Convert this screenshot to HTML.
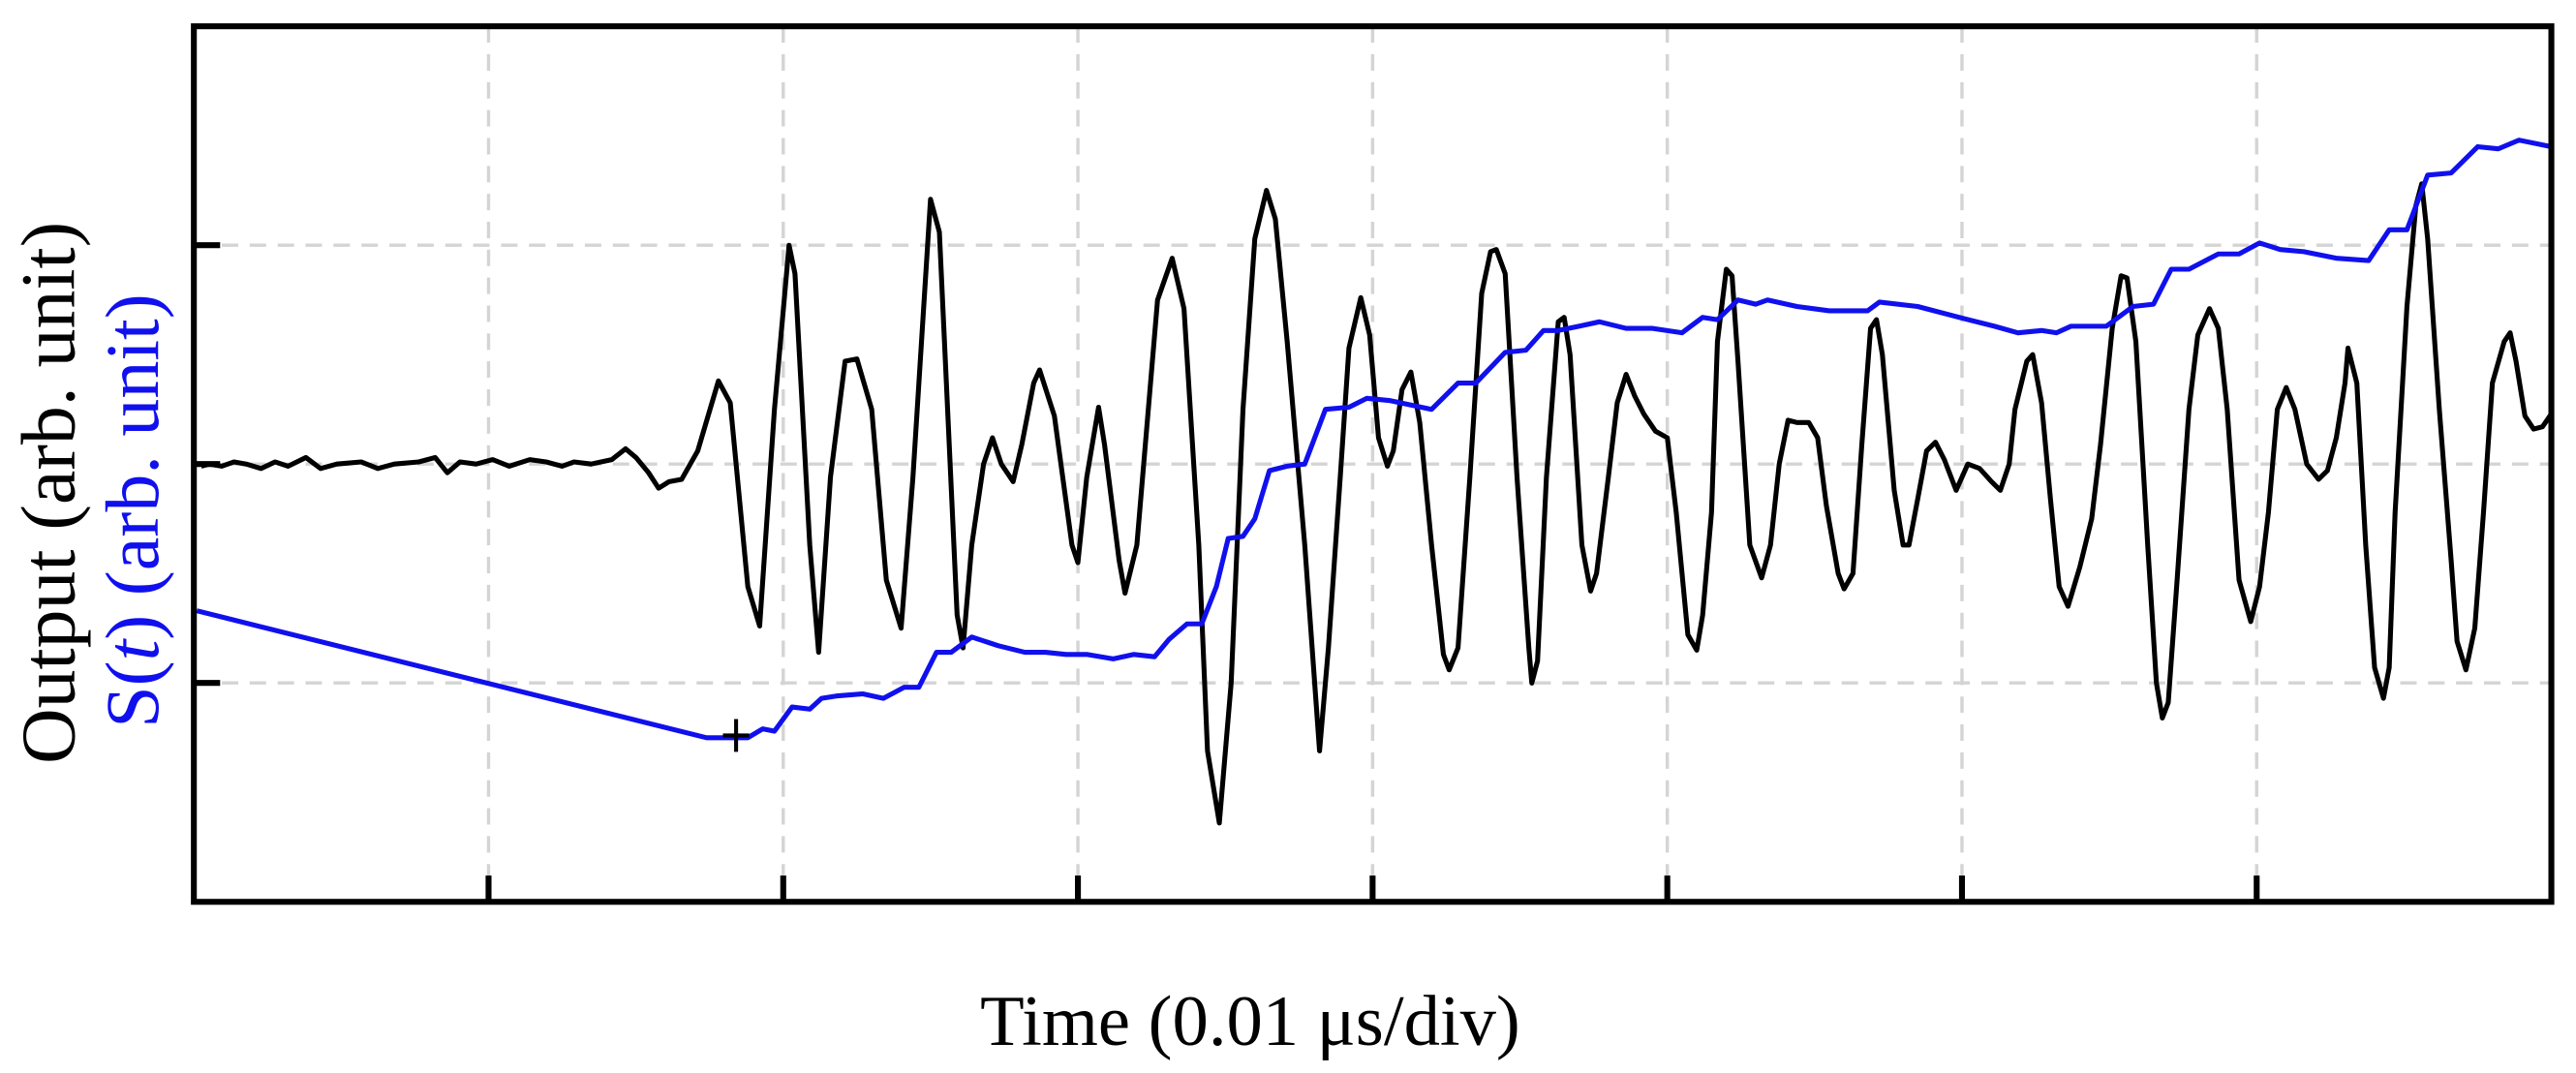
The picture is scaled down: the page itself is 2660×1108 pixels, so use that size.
<!DOCTYPE html>
<html><head><meta charset="utf-8"><style>
html,body{margin:0;padding:0;background:#fff;}
svg{display:block;}
text{font-family:"Liberation Serif",serif;}
</style></head>
<body>
<svg id="chart" width="2660" height="1108" viewBox="0 0 1568 653.2" preserveAspectRatio="none" xmlns="http://www.w3.org/2000/svg">
<g id="grid"></g>
<g id="series"></g>
<rect x="118" y="16" width="1435" height="533" fill="none" stroke="#000" stroke-width="3.6"/>
<g id="ticks"></g>
<text transform="translate(45,300) rotate(-90)" text-anchor="middle" font-size="47" fill="#000">Output (arb. unit)</text>
<text transform="translate(96,311) rotate(-90)" text-anchor="middle" font-size="46" fill="#1010ee">S(<tspan font-style="italic">t</tspan>) (arb. unit)</text>
<text x="761" y="636" text-anchor="middle" font-size="44" fill="#000">Time (0.01 μs/div)</text>
</svg>
<script>
const xDivs = [0,1,2,3,4,5,6,7,8];
const yDivs = [0,1,2,3,4];
const outputX = [0.025,0.053,0.095,0.136,0.178,0.228,0.276,0.32,0.38,0.43,0.485,0.568,0.624,0.68,0.763,0.819,0.86,0.903,0.958,1.014,1.07,1.14,1.195,1.25,1.29,1.348,1.418,1.465,1.5,1.543,1.577,1.613,1.655,
1.71,1.78,1.82,1.88,1.92,1.97,2.02,2.04,2.09,2.12,2.16,2.21,2.25,2.30,2.35,2.40,2.44,2.50,2.53,2.59,2.61,2.64,2.68,2.71,2.74,2.78,2.81,2.85,2.87,2.92,2.98,3.00,3.03,3.07,3.09,3.14,3.16,3.20,3.27,3.32,3.36,3.41,3.44,3.48,3.52,3.56,3.60,3.64,3.67,3.71,
3.77,3.82,3.85,3.89,3.92,3.96,3.99,4.02,4.05,4.07,4.10,4.13,4.16,4.20,4.24,4.26,4.29,4.33,4.37,4.40,4.42,4.45,4.49,4.53,4.54,4.56,4.59,4.63,4.65,4.67,4.71,4.74,4.76,4.80,4.83,4.86,4.89,4.92,4.96,5.0,5.03,5.07,5.10,5.12,5.15,5.17,5.20,5.22,5.24,5.28,5.32,5.35,5.38,5.41,5.44,5.48,5.51,5.54,5.58,5.60,5.63,5.66,5.69,5.71,5.73,5.77,5.80,5.82,5.85,5.88,5.91,5.94,5.98,6.02,6.06,6.10,6.13,6.16,6.18,6.22,6.24,6.27,6.30,6.33,6.36,6.40,6.44,6.47,6.51,6.54,6.56,6.59,6.63,6.66,6.68,6.70,6.73,6.77,6.80,6.84,6.87,6.90,6.94,6.98,7.01,7.04,7.07,7.10,7.13,7.17,7.21,7.24,7.27,7.30,7.31,7.34,7.37,7.40,7.43,7.45,7.47,7.51,7.54,7.56,7.58,7.62,7.66,7.68,7.71,7.74,7.77,7.80,7.84,7.86,7.88,7.91,7.94,7.97,8.0];
const outputY = [1.99,2.00,1.99,2.01,2.00,1.98,2.01,1.99,2.03,1.98,2.0,2.01,1.98,2.0,2.01,2.03,1.96,2.01,2.0,2.02,1.99,2.02,2.01,1.99,2.01,2.0,2.02,2.07,2.03,1.96,1.89,1.92,1.93,
2.06,2.38,2.28,1.44,1.26,2.25,3.0,2.87,1.63,1.14,1.94,2.47,2.48,2.25,1.47,1.25,1.94,3.21,3.06,1.31,1.16,1.63,2.0,2.12,2.0,1.92,2.09,2.37,2.43,2.22,1.63,1.55,1.94,2.26,2.09,1.56,1.41,1.63,2.75,2.94,2.71,1.63,0.69,0.36,1.0,2.25,3.03,3.25,3.12,2.56,
1.63,0.69,1.16,1.94,2.53,2.76,2.59,2.12,1.99,2.06,2.34,2.42,2.19,1.63,1.13,1.06,1.16,1.94,2.78,2.97,2.98,2.87,1.94,1.16,1.0,1.10,1.94,2.65,2.67,2.50,1.63,1.42,1.50,1.94,2.28,2.41,2.31,2.23,2.15,2.12,1.78,1.22,1.15,1.31,1.78,2.56,2.89,2.86,2.47,1.63,1.48,1.63,2.0,2.20,2.19,2.19,2.12,1.81,1.50,1.43,1.50,2.09,2.62,2.66,2.50,1.88,1.63,1.63,1.84,2.06,2.10,2.02,1.88,2.0,1.98,1.92,1.88,2.0,2.25,2.47,2.50,2.28,1.84,1.44,1.35,1.53,1.75,2.09,2.62,2.86,2.85,2.56,1.63,1.0,0.84,0.91,1.47,2.25,2.59,2.71,2.62,2.25,1.47,1.28,1.44,1.78,2.25,2.35,2.25,2.0,1.93,1.97,2.12,2.37,2.53,2.37,1.63,1.07,0.93,1.07,1.78,2.72,3.18,3.28,3.03,2.25,1.56,1.19,1.06,1.25,1.78,2.37,2.56,2.60,2.47,2.22,2.16,2.17,2.23];
const sX = [0.01,1.74,1.88,1.93,1.97,2.03,2.09,2.13,2.18,2.27,2.34,2.41,2.46,2.52,2.57,2.64,2.73,2.82,2.89,2.96,3.03,3.12,3.19,3.26,3.31,3.37,3.42,3.47,3.51,3.56,3.60,3.65,3.71,3.77,3.84,3.92,3.98,4.06,4.20,4.29,4.35,4.45,4.52,4.58,4.63,4.70,4.77,4.86,4.95,5.05,5.12,5.17,5.24,5.30,5.34,5.44,5.55,5.63,5.68,5.72,5.85,5.99,6.11,6.19,6.27,6.32,6.37,6.49,6.58,6.65,6.71,6.77,6.87,6.94,7.01,7.08,7.16,7.27,7.38,7.45,7.51,7.58,7.66,7.75,7.82,7.89,8.0];
const sY = [1.33,0.75,0.75,0.79,0.78,0.89,0.88,0.93,0.94,0.95,0.93,0.98,0.98,1.14,1.14,1.21,1.17,1.14,1.14,1.13,1.13,1.11,1.13,1.12,1.20,1.27,1.27,1.44,1.66,1.67,1.75,1.97,1.99,2.0,2.25,2.26,2.30,2.29,2.25,2.37,2.37,2.51,2.52,2.61,2.61,2.63,2.65,2.62,2.62,2.60,2.67,2.66,2.75,2.73,2.75,2.72,2.70,2.70,2.70,2.74,2.72,2.67,2.63,2.60,2.61,2.60,2.63,2.63,2.72,2.73,2.89,2.89,2.96,2.96,3.01,2.98,2.97,2.94,2.93,3.07,3.07,3.32,3.33,3.45,3.44,3.48,3.45];
const markerPoint = [1.84, 0.76];

const L=118,R=1553,T=16,B=549;
const sx=v=>L+(R-L)*v/8;
const sy=v=>B-(B-T)*v/4;
const NS='http://www.w3.org/2000/svg';
function mk(tag,attrs,parent){const e=document.createElementNS(NS,tag);for(const k in attrs)e.setAttribute(k,attrs[k]);parent.appendChild(e);return e;}
const grid=document.getElementById('grid'),ticks=document.getElementById('ticks'),series=document.getElementById('series');
xDivs.slice(1,-1).forEach(d=>{
  const g=mk('line',{x1:sx(d),x2:sx(d),y1:T,y2:B,stroke:'#d4d4d4','stroke-width':2,'stroke-dasharray':'10,7'},grid);
  
  
  const t=mk('line',{x1:sx(d),x2:sx(d),y1:B,y2:B-16,stroke:'#000','stroke-width':3.6},ticks);
  
  
});
yDivs.slice(1,-1).forEach(d=>{
  const g=mk('line',{x1:L,x2:R,y1:sy(d),y2:sy(d),stroke:'#d4d4d4','stroke-width':2,'stroke-dasharray':'10,7'},grid);
  
  
  const t=mk('line',{x1:L,x2:L+16,y1:sy(d),y2:sy(d),stroke:'#000','stroke-width':3.6},ticks);
  
  
});
const p1=mk('polyline',{points:outputX.map((x,i)=>sx(x).toFixed(1)+','+sy(outputY[i]).toFixed(1)).join(' '),fill:'none',stroke:'#000','stroke-width':3,'stroke-linejoin':'round'},series);


const p2=mk('polyline',{points:sX.map((x,i)=>sx(x).toFixed(1)+','+sy(sY[i]).toFixed(1)).join(' '),fill:'none',stroke:'#1010ee','stroke-width':3,'stroke-linejoin':'round'},series);


const mx=sx(markerPoint[0]),my=sy(markerPoint[1]);
const m=mk('path',{d:`M${mx-8},${my}H${mx+8}M${mx},${my-10}V${my+10}`,stroke:'#000','stroke-width':2.4},series);


</script>
</body></html>
